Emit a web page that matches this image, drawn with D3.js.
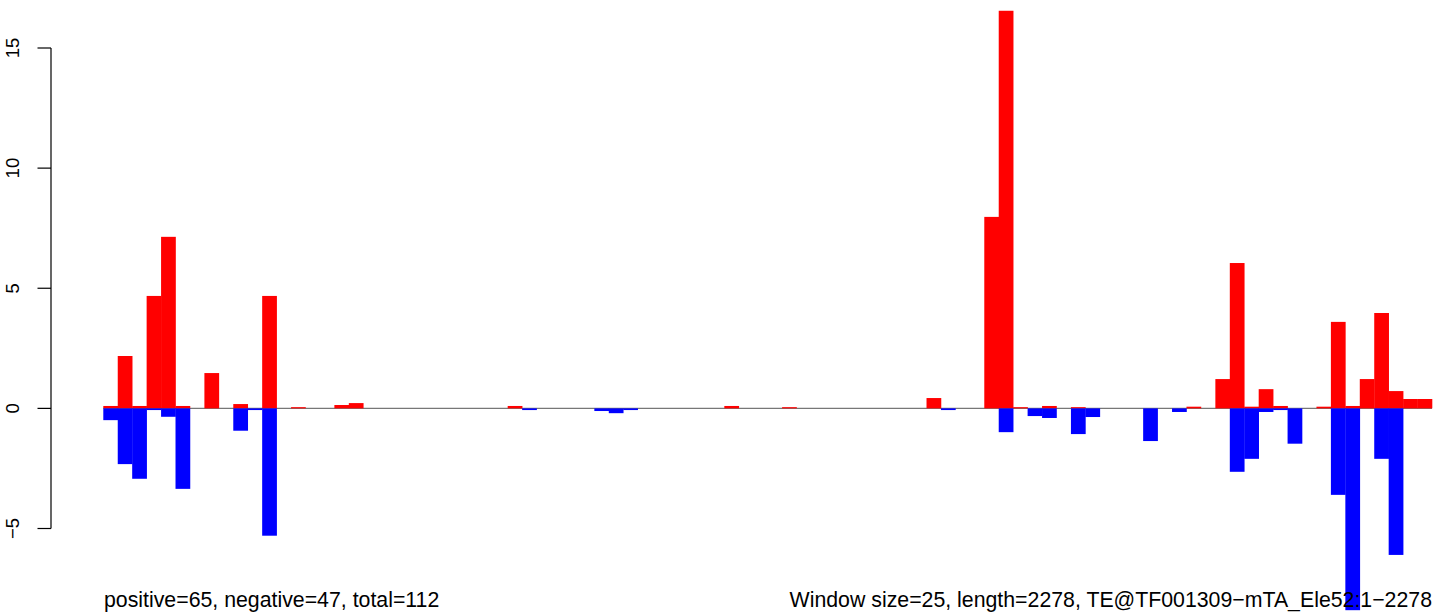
<!DOCTYPE html>
<html>
<head>
<meta charset="utf-8">
<script src="https://cdn.jsdelivr.net/npm/d3@7"></script>
<style>
  html, body { margin: 0; padding: 0; background: #fff; }
  svg { display: block; }
  text { font-family: "Liberation Sans", Arial, sans-serif; fill: #000; }
</style>
</head>
<body>
<script>
// Window index (0..91), window size 25, length 2278
const windows = d3.range(92);

// Positive-strand values per window (red)
const positiveValues = [
  0.1, 2.18, 0.1, 4.68, 7.14, 0.1, 0, 1.47, 0, 0.18,
  0, 4.68, 0, 0.05, 0, 0, 0.14, 0.22, 0, 0,
  0, 0, 0, 0, 0, 0, 0, 0, 0.1, 0,
  0, 0, 0, 0, 0, 0, 0, 0, 0, 0,
  0, 0, 0, 0.1, 0, 0, 0, 0.05, 0, 0,
  0, 0, 0, 0, 0, 0, 0, 0.43, 0, 0,
  0, 7.97, 16.55, 0.05, 0, 0.1, 0, 0.05, 0, 0,
  0, 0, 0, 0, 0, 0.07, 0, 1.22, 6.05, 0.07,
  0.8, 0.1, 0, 0, 0.07, 3.6, 0.1, 1.22, 3.97, 0.72,
  0.39, 0.39
];

// Negative-strand values per window (blue)
const negativeValues = [
  -0.49, -2.32, -2.93, -0.07, -0.35, -3.35, 0, 0, 0, -0.93,
  -0.07, -5.3, 0, 0, 0, 0, 0, 0, 0, 0,
  0, 0, 0, 0, 0, 0, 0, 0, 0, -0.07,
  0, 0, 0, 0, -0.11, -0.2, -0.07, 0, 0, 0,
  0, 0, 0, 0, 0, 0, 0, 0, 0, 0,
  0, 0, 0, 0, 0, 0, 0, 0, -0.07, 0,
  0, 0, -0.99, 0, -0.32, -0.4, 0, -1.07, -0.36, 0,
  0, 0, -1.36, 0, -0.15, 0, 0, 0, -2.64, -2.1,
  -0.15, -0.07, -1.47, 0, 0, -3.6, -8.4, 0, -2.1, -6.1,
  0, 0
];

const yTicks = [-5, 0, 5, 10, 15];
const leftLabel = "positive=65, negative=47, total=112";
const rightLabel = "Window size=25, length=2278, TE@TF001309\u2212mTA_Ele52:1\u22122278";

const W = 1441, H = 613;
const svg = d3.select("body").append("svg").attr("width", W).attr("height", H);

const x = d3.scaleBand().domain(windows).range([103.3, 1432]).padding(0);
const y = d3.scaleLinear().domain([-5, 15]).range([528.5, 48]);

const bw = x.bandwidth();

// Zero line (under the bars)
svg.append("line")
  .attr("x1", x.range()[0]).attr("x2", x.range()[1])
  .attr("y1", y(0)).attr("y2", y(0))
  .attr("stroke", "#777777").attr("stroke-width", 1.3);

// Positive bars
svg.append("g").selectAll("rect")
  .data(windows.filter(i => positiveValues[i] !== 0))
  .join("rect")
  .attr("x", i => x(i))
  .attr("width", bw + 0.3)
  .attr("y", i => y(positiveValues[i]))
  .attr("height", i => y(0) - y(positiveValues[i]))
  .attr("fill", "#ff0000");

// Negative bars
svg.append("g").selectAll("rect")
  .data(windows.filter(i => negativeValues[i] !== 0))
  .join("rect")
  .attr("x", i => x(i))
  .attr("width", bw + 0.3)
  .attr("y", y(0))
  .attr("height", i => y(negativeValues[i]) - y(0))
  .attr("fill", "#0000ff");

// Y axis
const axisX = 51;
const ag = svg.append("g");
ag.append("line")
  .attr("x1", axisX).attr("x2", axisX)
  .attr("y1", y(yTicks[0])).attr("y2", y(yTicks[yTicks.length - 1]))
  .attr("stroke", "#000").attr("stroke-width", 1.2);
ag.selectAll("line.tick").data(yTicks).join("line")
  .attr("class", "tick")
  .attr("x1", axisX - 13.5).attr("x2", axisX)
  .attr("y1", d => y(d)).attr("y2", d => y(d))
  .attr("stroke", "#000").attr("stroke-width", 1.2);
ag.selectAll("text").data(yTicks).join("text")
  .attr("transform", d => `translate(19,${y(d)}) rotate(-90)`)
  .attr("text-anchor", "middle")
  .attr("font-size", 18.5)
  .text(d => d < 0 ? "\u2212" + Math.abs(d) : String(d));

// Bottom annotations
svg.append("text")
  .attr("x", 104).attr("y", 607)
  .attr("font-size", 21.3)
  .text(leftLabel);
svg.append("text")
  .attr("x", 1432).attr("y", 607)
  .attr("text-anchor", "end")
  .attr("font-size", 21.3)
  .text(rightLabel);
</script>
</body>
</html>
